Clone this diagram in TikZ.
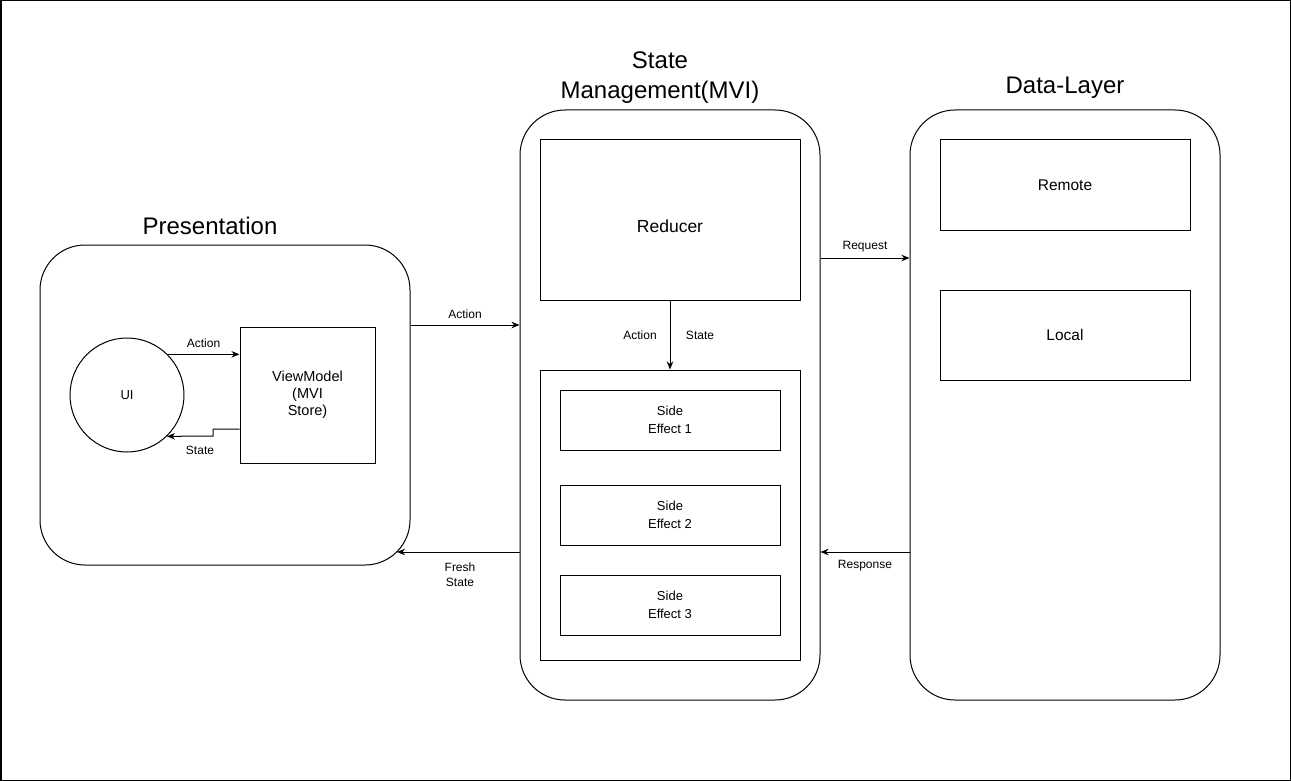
\documentclass[tikz,border=0pt]{standalone}
\usepackage{fontspec}
\setmainfont{Liberation Sans}
\usetikzlibrary{arrows.meta}
\begin{document}
\begin{tikzpicture}[x=1pt,y=-1pt,
  box/.style={draw, line width=1pt, inner sep=0pt, align=center, font=\fontsize{15.5}{18}\selectfont},
  sbox/.style={box, font=\fontsize{13}{18}\selectfont},
  group/.style={draw, line width=1pt, rounded corners=45pt, inner sep=0pt},
  lbl/.style={font=\fontsize{12}{15}\selectfont, align=center, inner sep=0pt},
  ttl/.style={font=\fontsize{24}{30}\selectfont, align=center, inner sep=0pt},
  arr/.style={-{Stealth[length=8pt,width=6.5pt,inset=2.5pt]}, line width=1pt}
]
\useasboundingbox (0,0) rectangle (1291,781);
\draw[line width=1.5pt] (0.75,0.75) rectangle (1290.25,780.25);

% groups
\node[group, minimum width=370, minimum height=320] (pres) at (225,405) {};
\node[group, minimum width=300, minimum height=590] (sm) at (670,405) {};
\node[group, minimum width=310, minimum height=590] (dl) at (1065,405) {};

% titles
\node[ttl] (tpres) at (210,226) {Presentation};
\node[ttl] (tsm) at (660,78) {State\\Management(MVI)};
\node[ttl] (tdl) at (1065,88) {Data-Layer};

% presentation content
\node[draw, circle, line width=1pt, minimum size=114, inner sep=0pt, font=\fontsize{13}{16}\selectfont] (ui) at (127,395) {UI};
\node[box, minimum width=135, minimum height=136, font=\fontsize{14.5}{17}\selectfont] (vm) at (307.5,395) {ViewModel\\(MVI\\Store)};

% state management content
\node[box, minimum width=260, minimum height=160] (red) at (670,220) {};
\node[font=\fontsize{17.5}{20}\selectfont, inner sep=0pt] (redt) at (670,226) {Reducer};
\node[box, minimum width=260, minimum height=290] (se) at (670,515) {};
\node[sbox, minimum width=220, minimum height=60] (se1) at (670,420) {Side\\Effect 1};
\node[sbox, minimum width=220, minimum height=60] (se2) at (670,515) {Side\\Effect 2};
\node[sbox, minimum width=220, minimum height=60] (se3) at (670,605) {Side\\Effect 3};

% data layer content
\node[box, minimum width=250, minimum height=90] (rem) at (1065,185) {Remote};
\node[box, minimum width=250, minimum height=90] (loc) at (1065,335) {Local};

% connectors
\draw[arr] (ui.45) -- (vm.west |- ui.45) node[lbl, midway, above=6pt] {Action};
\coordinate (cs1) at (213,429);
\coordinate (cs2) at (213,436);
\draw[arr] (vm.west |- cs1) -- (cs1) -- (cs2) -- (ui.-46);
\node[lbl] (lstate) at (200,450) {State};

\draw[arr] (pres.east |- 0,325) -- (sm.west |- 0,325) node[lbl, midway, above=6pt] {Action};
\coordinate (pcorner) at (397,552);
\draw[arr] (sm.west |- pcorner) -- (pcorner);
\node[lbl] (lfresh) at (460,575) {Fresh\\State};

\draw[arr] (red.south) -- (se.north);
\node[lbl] (lact2) at (640,335) {Action};
\node[lbl] (lst2) at (700,335) {State};

\draw[arr] (sm.east |- 0,258) -- (dl.west |- 0,258) node[lbl, midway, above=6pt] {Request};
\draw[arr] (dl.west |- 0,552) -- (sm.east |- 0,552) node[lbl, midway, below=8pt] {Response};
\end{tikzpicture}
\end{document}
